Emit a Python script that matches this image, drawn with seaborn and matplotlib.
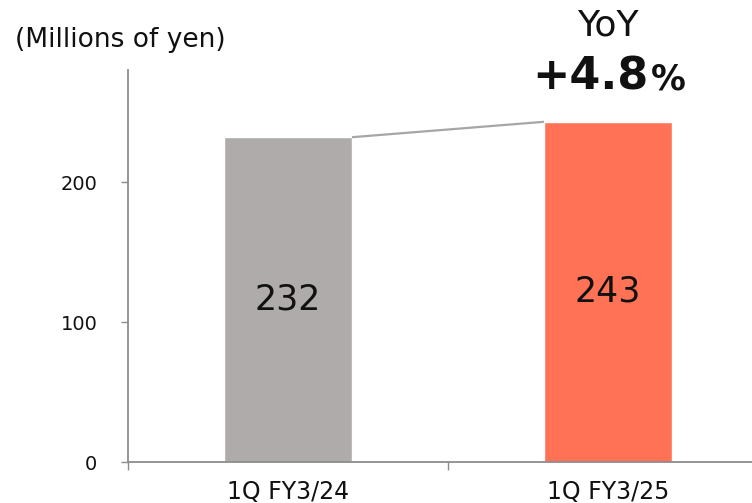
import matplotlib
matplotlib.use("Agg")
import matplotlib.pyplot as plt
import seaborn as sns
import pandas as pd

# Quarterly figures (millions of yen)
periods = ["1Q FY3/24", "1Q FY3/25"]
values = [232, 243]
bar_colors = ["#AFABAB", "#FF7256"]
yoy_label = "+4.8"
y_ticks = [0, 100, 200]

sns.set_theme(style="white")
plt.rcParams["font.family"] = ["DejaVu Sans"]

df = pd.DataFrame({"period": periods, "value": values})

W, H = 752, 503
fig = plt.figure(figsize=(W / 100, H / 100), dpi=100)
ax = fig.add_axes([128 / W, 1 - 462 / H, 640 / W, (462 - 70) / H])

sns.barplot(data=df, x="period", y="value", hue="period",
            palette=bar_colors, width=0.4, legend=False, ax=ax,
            saturation=1)

ax.set_xlim(-0.5, 1.5)
ax.set_ylim(0, 280)
ax.set_xlabel("")
ax.set_ylabel("")

# value labels inside the bars
for i, v in enumerate(values):
    ax.text(i, v / 2, f"{v}", ha="center", va="center", fontsize=25, color="#111111")

# connector between bar tops
half = 0.2
ax.plot([0 + half, 1 - half], [values[0], values[1]], color="#A6A6A6", lw=1.6,
        solid_capstyle="butt", zorder=3)

# axes styling
axis_color = "#8C8C8C"
for side in ["top", "right"]:
    ax.spines[side].set_visible(False)
for side in ["left", "bottom"]:
    ax.spines[side].set_color(axis_color)
    ax.spines[side].set_linewidth(1.3)

ax.set_yticks(y_ticks)
ax.tick_params(axis="y", direction="out", length=5, width=1, color=axis_color,
               pad=17, labelsize=14, labelcolor="#111111", left=True)
ax.set_xticks(range(len(periods)))
ax.set_xticklabels(periods)
ax.tick_params(axis="x", which="major", length=0, pad=13, labelsize=17,
               labelcolor="#111111")
ax.set_xticks([-0.5, 0.5, 1.5], minor=True)
ax.tick_params(axis="x", which="minor", direction="out", length=6, width=1,
               color=axis_color, bottom=True)

# header texts
fig.text(15 / W, 1 - 40 / H, "(Millions of yen)", ha="left", va="center",
         fontsize=19, color="#111111")
fig.text(608 / W, 1 - 26 / H, "YoY", ha="center", va="center",
         fontsize=26, color="#111111")

# growth figure with a smaller percent sign, centred over the second bar
renderer = fig.canvas.get_renderer()
num = fig.text(0, 1 - 77 / H, yoy_label, ha="left", va="center",
               fontsize=32, fontweight="bold", color="#111111")
pct = fig.text(0, 1 - 79 / H, "%", ha="left", va="center",
               fontsize=25, fontweight="bold", color="#111111")
w_num = num.get_window_extent(renderer).width
w_pct = pct.get_window_extent(renderer).width
gap = 2
x0 = 609 - (w_num + gap + w_pct) / 2
num.set_x(x0 / W)
pct.set_x((x0 + w_num + gap) / W)

fig.savefig("out.png", dpi=100)
